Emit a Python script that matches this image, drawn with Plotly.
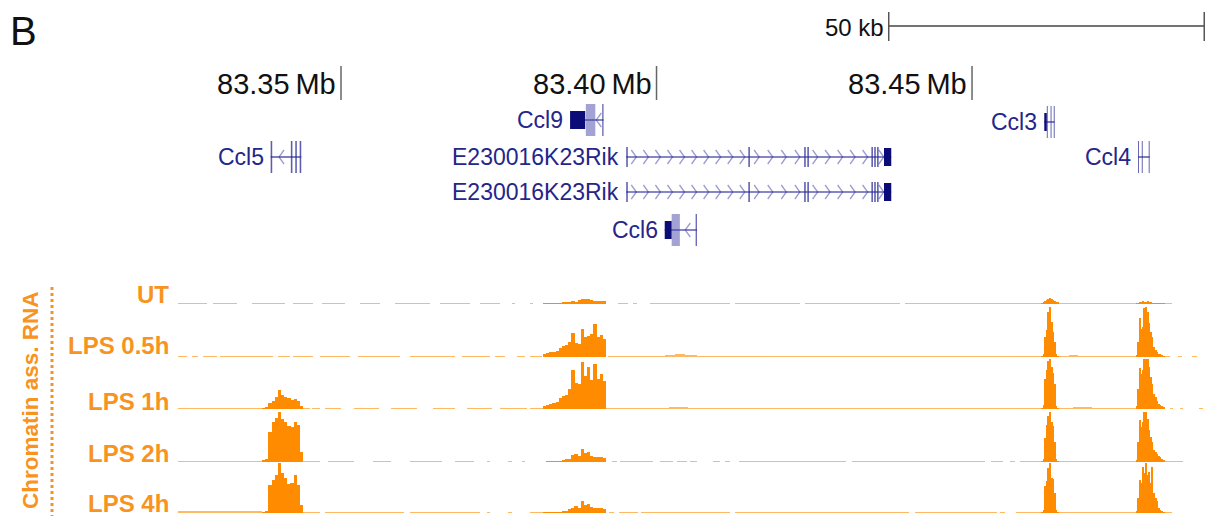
import plotly.graph_objects as go

# ---------------------------------------------------------------------------
# Genomic window (kb, mouse chr11) and canvas
# ---------------------------------------------------------------------------
W, H = 1205, 516
X_MIN, X_MAX = 83295.96, 83486.92

# Coordinate ruler and scale bar
RULER_KB = [83350, 83400, 83450]
RULER_TEXT = ["83.35\u2009Mb", "83.40\u2009Mb", "83.45\u2009Mb"]
SCALE_BAR_END_KB = 83486.8
SCALE_BAR_LEN_KB = 50
SCALE_BAR_TEXT = "50 kb"

# ---------------------------------------------------------------------------
# Gene models
# ---------------------------------------------------------------------------
GENE_NAMES = ["Ccl5", "Ccl9", "E230016K23Rik", "E230016K23Rik", "Ccl6", "Ccl3", "Ccl4"]
GENE_ROW = [157, 120, 157, 192, 230, 122, 157]
GENE_START = [83338.85, 83386.3, 83395.2, 83395.2, 83401.3, 83461.45, 83476.3]
GENE_END = [83343.7, 83391.6, 83437.2, 83437.2, 83406.4, 83463.1, 83478.15]
GENE_STRAND = ["-", "-", "+", "+", "-", "", ""]

# exon blocks: owning gene, start, end, block type
EXON_GENE = [0, 0, 0, 0,
             1, 1, 1,
             2, 2, 2, 2, 2, 2, 2, 2,
             3, 3, 3, 3, 3, 3, 3, 3,
             4, 4, 4,
             5, 5, 5, 5,
             6, 6, 6]
EXON_START = [83338.85, 83342.05, 83342.75, 83343.45,
              83386.3, 83388.8, 83391.4,
              83395.2, 83414.55, 83423.4, 83423.9, 83434.05, 83434.5, 83434.95, 83436.05,
              83395.2, 83414.55, 83423.4, 83423.9, 83434.05, 83434.5, 83434.95, 83436.05,
              83401.3, 83402.4, 83406.2,
              83461.45, 83461.85, 83462.45, 83462.95,
              83476.3, 83476.9, 83478.0]
EXON_END = [83339.1, 83342.3, 83343.0, 83343.7,
            83388.7, 83390.3, 83391.6,
            83395.45, 83414.8, 83423.65, 83424.15, 83434.3, 83434.75, 83435.2, 83437.2,
            83395.45, 83414.8, 83423.65, 83424.15, 83434.3, 83434.75, 83435.2, 83437.2,
            83402.4, 83403.7, 83406.4,
            83461.85, 83462.0, 83462.6, 83463.1,
            83476.45, 83477.05, 83478.15]
EXON_KIND = ["tall", "tall", "tall", "tall",
             "cds", "utr", "tall",
             "tick", "tick", "tick", "tick", "tick", "tick", "tick", "cds",
             "tick", "tick", "tick", "tick", "tick", "tick", "tick", "cds",
             "cds", "utr", "tall",
             "cds", "tall", "tall", "tall",
             "tall", "tall", "tall"]

# ---------------------------------------------------------------------------
# Chromatin-associated RNA coverage (percent of track height, 100 = clipped)
# ---------------------------------------------------------------------------
TRACK_NAMES = ["UT", "LPS 0.5h", "LPS 1h", "LPS 2h", "LPS 4h"]

# binned regions: first bin start (kb) and bin size (kb)
CCL5_BIN0, CCL5_STEP = 83337.5, 0.5
CCL9_BIN0, CCL9_STEP = 83382.0, 0.5
CCL3_BIN0, CCL3_STEP = 83461.0, 0.25
CCL4_BIN0, CCL4_STEP = 83476.0, 0.25

UT_CCL5 = []
UT_CCL9 = [2, 2, 2, 2, 2, 2, 4, 4, 4, 6, 4, 8, 10, 10, 10, 8, 6, 6, 6, 6]
UT_CCL3 = [2, 4, 6, 8, 10, 12, 10, 8, 6, 4, 4]
UT_CCL4 = [2, 2, 4, 4, 6, 4, 4, 6, 4, 4, 2, 2, 2, 2, 2, 2, 2, 2]

LPS05_CCL5 = []
LPS05_CCL9 = [6, 8, 10, 10, 12, 18, 22, 24, 30, 48, 28, 26, 56, 40, 42, 46, 66, 40, 44, 36]
LPS05_CCL3 = [2, 6, 40, 54, 90, 100, 70, 50, 30, 6, 2]
LPS05_CCL4 = [4, 30, 78, 56, 60, 98, 100, 90, 68, 50, 40, 20, 14, 10, 6, 6, 4, 2]

LPS1_CCL5 = [2, 3, 12, 16, 24, 38, 28, 24, 22, 18, 20, 16, 6]
LPS1_CCL9 = [6, 8, 10, 12, 14, 22, 26, 28, 40, 78, 52, 50, 94, 66, 84, 58, 90, 60, 70, 56]
LPS1_CCL3 = [2, 8, 60, 78, 96, 100, 84, 72, 50, 6, 2]
LPS1_CCL4 = [6, 40, 82, 70, 78, 100, 100, 100, 84, 64, 50, 30, 24, 16, 10, 8, 6, 4]

LPS2_CCL5 = [3, 6, 60, 80, 88, 100, 86, 80, 72, 70, 80, 74, 20]
LPS2_CCL9 = [0, 2, 2, 2, 2, 2, 4, 6, 6, 14, 16, 12, 26, 18, 20, 12, 10, 10, 10, 8]
LPS2_CCL3 = [2, 6, 48, 74, 92, 100, 80, 72, 40, 6, 2]
LPS2_CCL4 = [4, 40, 84, 70, 80, 100, 100, 86, 64, 50, 40, 24, 20, 16, 12, 10, 6, 4]

LPS4_CCL5 = [2, 4, 56, 66, 76, 100, 80, 70, 58, 60, 76, 56, 16]
LPS4_CCL9 = [2, 2, 2, 2, 2, 2, 4, 4, 8, 10, 14, 10, 24, 16, 18, 12, 10, 10, 10, 8]
LPS4_CCL3 = [2, 6, 54, 64, 90, 100, 70, 68, 40, 6, 2]
LPS4_CCL4 = [4, 30, 66, 60, 92, 80, 100, 76, 82, 60, 92, 40, 30, 24, 10, 6, 4, 2]

# low-level read coverage outside the binned regions: (start kb, end kb, level)
UT_LOW = [(83324.2, 83328.8, 2), (83329.7, 83333.5, 2), (83335.9, 83341.1, 2),
          (83342.4, 83345.6, 2), (83347.0, 83350.6, 2), (83353.0, 83356.2, 2),
          (83358.6, 83364.1, 2), (83365.7, 83370.4, 2), (83372.0, 83375.2, 2),
          (83377.1, 83377.6, 2), (83380.0, 83380.4, 2), (83393.9, 83395.5, 2),
          (83396.3, 83396.9, 2), (83399.0, 83411.6, 2), (83412.4, 83422.7, 2),
          (83423.5, 83438.6, 2), (83439.4, 83461.0, 2), (83463.8, 83476.0, 2),
          (83480.5, 83481.7, 2)]
LPS05_LOW = [(83324.2, 83325.6, 2), (83326.4, 83327.3, 2), (83328.1, 83330.3, 2),
             (83330.8, 83339.2, 2), (83340.0, 83341.9, 2), (83342.4, 83345.6, 2),
             (83346.7, 83351.4, 2), (83352.7, 83359.4, 2), (83360.9, 83368.1, 2),
             (83369.2, 83373.6, 2), (83374.4, 83376.0, 2), (83377.9, 83379.2, 2),
             (83380.0, 83381.9, 2), (83392.3, 83461.0, 2), (83401.3, 83403.0, 4),
             (83403.0, 83404.5, 6), (83404.5, 83406.4, 4), (83463.8, 83476.0, 2),
             (83465.4, 83466.8, 4), (83480.5, 83481.4, 2), (83482.7, 83483.3, 2),
             (83484.9, 83485.7, 2)]
LPS1_LOW = [(83324.2, 83337.5, 2), (83344.0, 83345.1, 2), (83345.4, 83346.7, 2),
            (83347.5, 83350.0, 2), (83352.0, 83356.0, 2), (83358.0, 83362.0, 2),
            (83364.5, 83368.0, 2), (83370.0, 83374.0, 2), (83375.2, 83379.5, 2),
            (83380.0, 83382.0, 2), (83392.0, 83461.0, 2), (83402.0, 83405.0, 3),
            (83463.8, 83476.0, 2), (83466.0, 83469.0, 3), (83481.4, 83481.9, 2),
            (83483.0, 83483.5, 2), (83485.9, 83486.6, 2)]
LPS2_LOW = [(83324.2, 83337.5, 2), (83343.8, 83346.7, 2), (83348.0, 83352.0, 2),
            (83355.0, 83358.0, 2), (83361.0, 83366.0, 2), (83368.0, 83371.0, 2),
            (83373.1, 83373.6, 2), (83376.5, 83377.1, 2), (83378.7, 83379.2, 2),
            (83392.9, 83393.7, 2), (83394.2, 83399.4, 2), (83400.6, 83402.6, 2),
            (83403.2, 83404.8, 2), (83405.3, 83406.4, 2), (83408.9, 83410.1, 2),
            (83410.9, 83411.7, 2), (83413.0, 83430.0, 2), (83431.0, 83452.0, 2),
            (83453.0, 83454.9, 2), (83456.0, 83456.8, 2), (83457.6, 83461.0, 2),
            (83463.8, 83476.0, 2), (83480.5, 83483.5, 2)]
LPS4_LOW = [(83324.2, 83337.5, 3), (83343.8, 83346.7, 2), (83347.5, 83360.0, 2),
            (83361.0, 83372.0, 2), (83373.1, 83373.6, 2), (83376.5, 83377.1, 2),
            (83380.0, 83382.0, 2), (83392.5, 83393.3, 2), (83394.0, 83397.0, 2),
            (83397.5, 83411.7, 2), (83412.5, 83440.0, 2), (83441.0, 83454.0, 2),
            (83454.4, 83455.2, 2), (83457.0, 83461.0, 2), (83463.8, 83476.0, 2),
            (83480.5, 83481.7, 2)]

TRACK_BINS = [
    [UT_CCL5, UT_CCL9, UT_CCL3, UT_CCL4],
    [LPS05_CCL5, LPS05_CCL9, LPS05_CCL3, LPS05_CCL4],
    [LPS1_CCL5, LPS1_CCL9, LPS1_CCL3, LPS1_CCL4],
    [LPS2_CCL5, LPS2_CCL9, LPS2_CCL3, LPS2_CCL4],
    [LPS4_CCL5, LPS4_CCL9, LPS4_CCL3, LPS4_CCL4],
]
TRACK_LOW = [UT_LOW, LPS05_LOW, LPS1_LOW, LPS2_LOW, LPS4_LOW]
REGION_GRID = [(CCL5_BIN0, CCL5_STEP), (CCL9_BIN0, CCL9_STEP),
               (CCL3_BIN0, CCL3_STEP), (CCL4_BIN0, CCL4_STEP)]

# ---------------------------------------------------------------------------
# Styling / layout constants
# ---------------------------------------------------------------------------
FONT = "Liberation Sans, Arial, Helvetica, sans-serif"
ORANGE = "#FF8C00"
LABEL_ORANGE = "#F7931E"
NAVY = "#0C0C78"
NAVY_TEXT = "#25258A"
NAVY_LINE = "rgba(40,40,150,0.75)"
NAVY_LIGHT = "rgba(70,70,170,0.5)"

TRACK_BASE_PX = [304, 357, 409, 462, 513]   # baseline of each track (px from top)
TRACK_HEIGHT_PX = 50
TRACK_LABEL_Y_PX = [294, 345, 401, 453, 503]

EXON_HALF_HEIGHT = {"cds": 9, "utr": 16, "tick": 10, "tall": 16}


def paper_x(xp):
    return xp / W


def paper_y(yp):
    return 1 - yp / H


fig = go.Figure()

# ----------------------------- coverage tracks -----------------------------
for t, name in enumerate(TRACK_NAMES):
    yname = "y%d" % (t + 2)
    # low-level coverage (thin dashes near the baseline)
    low = TRACK_LOW[t]
    fig.add_trace(go.Bar(
        x=[(s + e) / 2 for s, e, _ in low],
        y=[lv for _, _, lv in low],
        width=[e - s for s, e, _ in low],
        marker=dict(color=ORANGE, line=dict(width=0)),
        opacity=0.6,
        xaxis="x", yaxis=yname, hoverinfo="skip",
    ))
    # binned signal over the transcribed loci
    xs, ys, ws = [], [], []
    for (b0, step), vals in zip(REGION_GRID, TRACK_BINS[t]):
        for i, v in enumerate(vals):
            xs.append(b0 + step * (i + 0.5))
            ys.append(v)
            ws.append(step * 1.02)
    fig.add_trace(go.Bar(
        x=xs, y=ys, width=ws,
        marker=dict(color=ORANGE, line=dict(width=0)),
        xaxis="x", yaxis=yname, name=name, hoverinfo="skip",
    ))

# ------------------------------- gene models -------------------------------
shapes = []
annotations = []
chev_x, chev_y = [], []
CHEV_SPACING = 1.75   # kb between strand chevrons
CHEV_W = 0.8          # kb
CHEV_H = 7            # px

for g, gname in enumerate(GENE_NAMES):
    row = GENE_ROW[g]
    shapes.append(dict(type="line", xref="x", yref="y",
                       x0=GENE_START[g], x1=GENE_END[g], y0=row, y1=row,
                       line=dict(color=NAVY_LINE, width=1.6)))
    blocks = sorted((EXON_START[k], EXON_END[k], EXON_KIND[k])
                    for k in range(len(EXON_GENE)) if EXON_GENE[k] == g)
    for s, e, kind in blocks:
        hh = EXON_HALF_HEIGHT[kind]
        if kind == "cds":
            fill = NAVY
        elif kind == "utr":
            fill = NAVY_LIGHT
        else:
            fill = NAVY_LINE
        shapes.append(dict(type="rect", xref="x", yref="y",
                           x0=s, x1=e, y0=row - hh, y1=row + hh,
                           fillcolor=fill, line=dict(width=0)))
    # strand chevrons in the introns
    if GENE_STRAND[g]:
        sign = 1 if GENE_STRAND[g] == "+" else -1
        for (s0, e0, _), (s1, e1, _) in zip(blocks[:-1], blocks[1:]):
            gap = s1 - e0
            if gap < 0.8:
                continue
            n = max(1, int(gap // CHEV_SPACING))
            step = gap / n
            for k in range(n):
                cx = e0 + step * (k + 0.5)
                tip = cx + sign * CHEV_W / 2
                back = cx - sign * CHEV_W / 2
                chev_x += [back, tip, back, None]
                chev_y += [row - CHEV_H, row, row + CHEV_H, None]
    annotations.append(dict(x=GENE_START[g], y=row, xref="x", yref="y",
                            text=gname, showarrow=False, xanchor="right",
                            yanchor="middle", xshift=-5,
                            font=dict(family=FONT, size=23, color=NAVY_TEXT)))

fig.add_trace(go.Scatter(x=chev_x, y=chev_y, mode="lines",
                         line=dict(color="rgba(90,90,180,0.6)", width=1.3),
                         xaxis="x", yaxis="y", hoverinfo="skip"))

# ------------------------------ ruler & scale ------------------------------
for kb, txt in zip(RULER_KB, RULER_TEXT):
    shapes.append(dict(type="line", xref="x", yref="y", x0=kb, x1=kb, y0=66, y1=100,
                       line=dict(color="#666666", width=1.5)))
    annotations.append(dict(x=kb, y=84, xref="x", yref="y", text=txt, showarrow=False,
                            xanchor="right", yanchor="middle", xshift=-3,
                            font=dict(family=FONT, size=29, color="#111111")))

sb0 = SCALE_BAR_END_KB - SCALE_BAR_LEN_KB
shapes.append(dict(type="line", xref="x", yref="y", x0=sb0, x1=SCALE_BAR_END_KB,
                   y0=26, y1=26, line=dict(color="#444444", width=1.5)))
for xk in (sb0, SCALE_BAR_END_KB):
    shapes.append(dict(type="line", xref="x", yref="y", x0=xk, x1=xk, y0=12, y1=41,
                       line=dict(color="#555555", width=1.5)))
annotations.append(dict(x=sb0, y=27, xref="x", yref="y", text=SCALE_BAR_TEXT,
                        showarrow=False, xanchor="right", yanchor="middle", xshift=-3,
                        font=dict(family=FONT, size=24, color="#111111")))

# panel letter
annotations.append(dict(x=paper_x(8), y=paper_y(31), xref="paper", yref="paper",
                        text="B", showarrow=False, xanchor="left", yanchor="middle",
                        font=dict(family=FONT, size=40, color="#111111")))

# track labels
for name, ly in zip(TRACK_NAMES, TRACK_LABEL_Y_PX):
    annotations.append(dict(x=paper_x(171), y=paper_y(ly), xref="paper", yref="paper",
                            text="<b>%s</b>" % name, showarrow=False,
                            xanchor="right", yanchor="middle",
                            font=dict(family=FONT, size=24, color=LABEL_ORANGE)))

# group label and dotted bracket
annotations.append(dict(x=paper_x(30), y=paper_y(289), xref="paper", yref="paper",
                        text="<b>Chromatin ass. RNA</b>", textangle=-90, showarrow=False,
                        xanchor="center", yanchor="top",
                        font=dict(family=FONT, size=22.5, color=LABEL_ORANGE)))
shapes.append(dict(type="line", xref="paper", yref="paper",
                   x0=paper_x(52), x1=paper_x(52), y0=paper_y(287), y1=paper_y(518),
                   line=dict(color=LABEL_ORANGE, width=3, dash="dot")))

# --------------------------------- layout ----------------------------------
layout = dict(
    width=W, height=H,
    margin=dict(l=0, r=0, t=0, b=0, pad=0),
    paper_bgcolor="white", plot_bgcolor="white",
    showlegend=False, barmode="overlay", bargap=0,
    xaxis=dict(range=[X_MIN, X_MAX], visible=False, fixedrange=True, domain=[0, 1]),
    yaxis=dict(range=[H, 0], visible=False, fixedrange=True, domain=[0, 1]),
    shapes=shapes, annotations=annotations,
)
for t, base in enumerate(TRACK_BASE_PX):
    layout["yaxis%d" % (t + 2)] = dict(
        domain=[paper_y(base), paper_y(base - TRACK_HEIGHT_PX)],
        range=[0, 100], visible=False, fixedrange=True, anchor="x",
    )
fig.update_layout(**layout)

fig.write_html("out.html")
